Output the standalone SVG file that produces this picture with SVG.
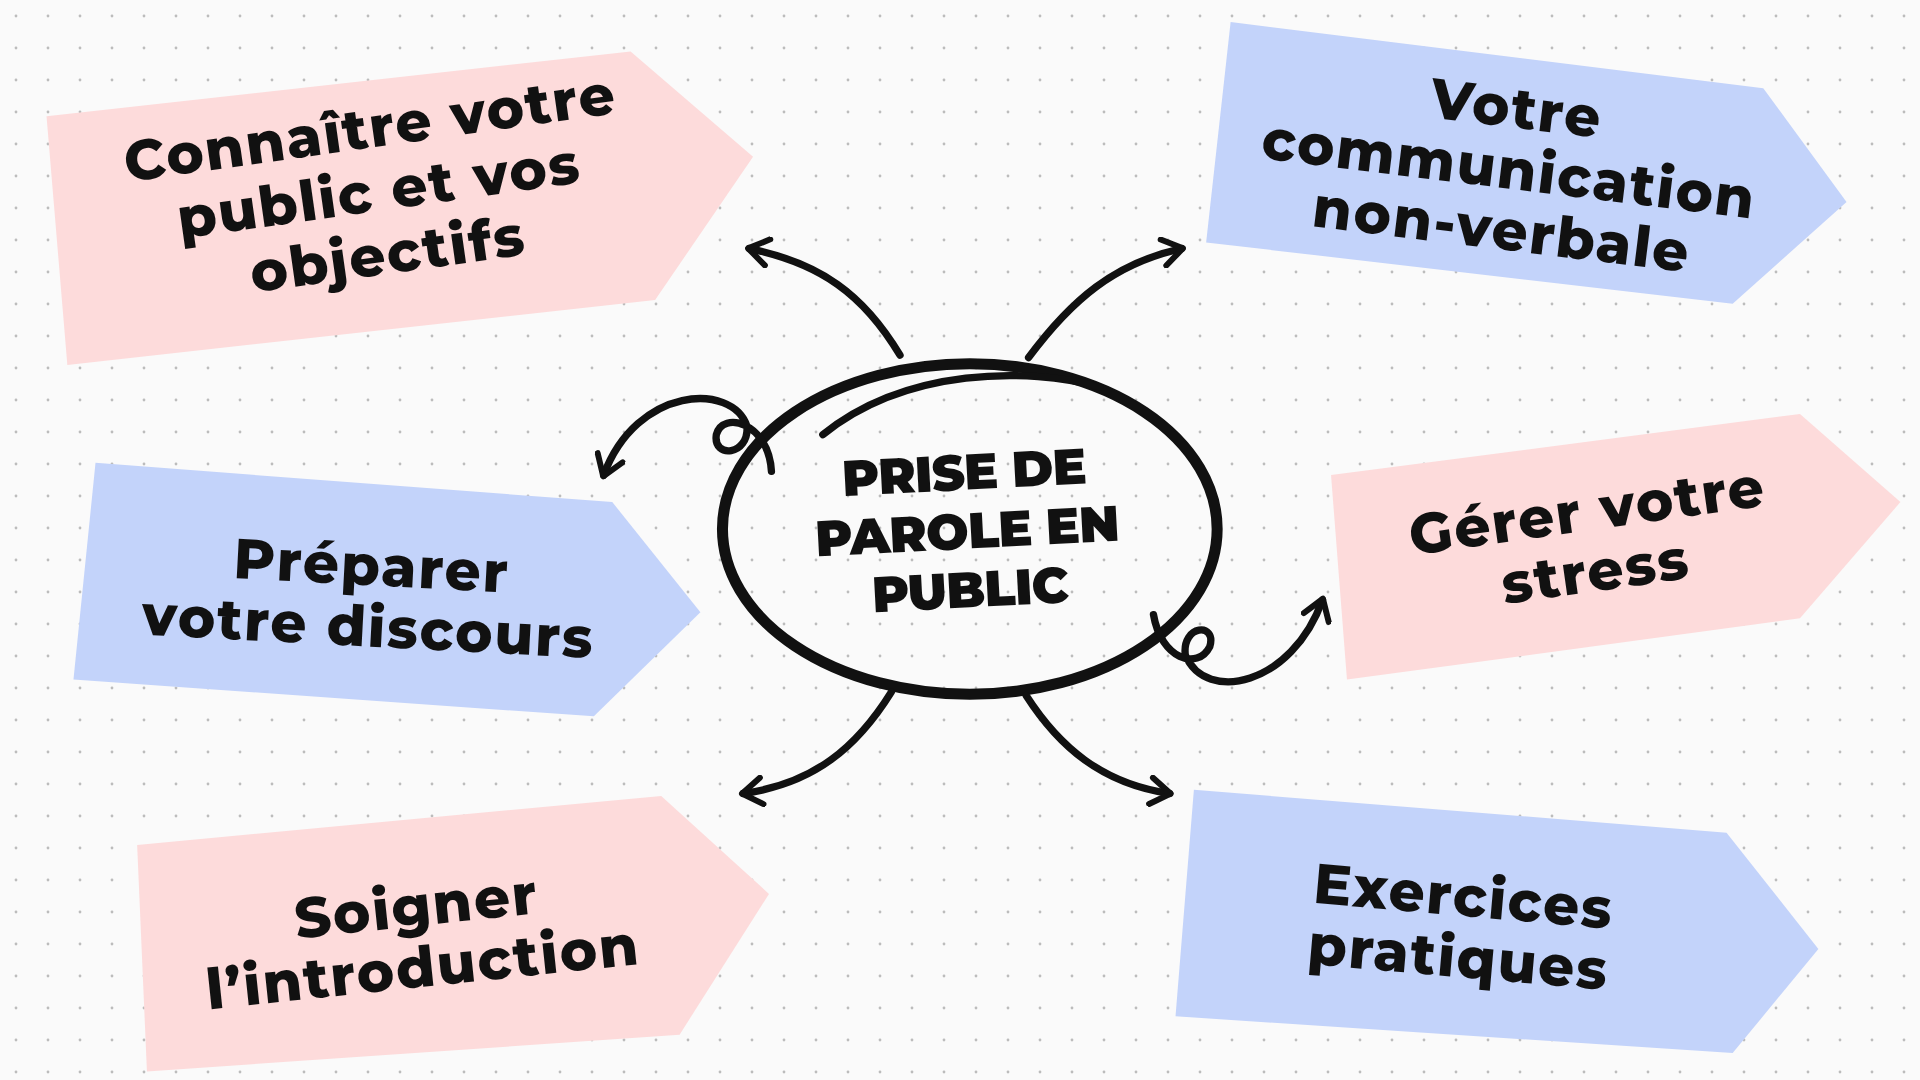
<svg xmlns="http://www.w3.org/2000/svg" width="1920" height="1080" viewBox="0 0 1920 1080">
<defs>
<pattern id="dots" width="32" height="32" patternUnits="userSpaceOnUse"><circle cx="16" cy="16" r="1.4" fill="#bcbcbc"/></pattern>
<marker id="ah" viewBox="0 0 24 24" refX="17" refY="12" markerWidth="26" markerHeight="26" markerUnits="userSpaceOnUse" orient="auto"><path d="M3,2 L18,12 L3,22" fill="none" stroke="#111" stroke-width="4.5" stroke-linecap="round" stroke-linejoin="round"/></marker>
<style>
.pink{fill:#fddbdb}.blue{fill:#c3d3fa}
.t{font-family:Montserrat,"Open Sans",Inter,sans-serif;font-weight:800;fill:#111;text-anchor:middle;font-size:46px;letter-spacing:1.5px}
.c{stroke:#111;stroke-width:6;fill:none;stroke-linecap:round}
</style>
</defs>
<rect width="1920" height="1080" fill="#fafafa"/>
<rect width="1920" height="1080" fill="url(#dots)"/>
<g transform="scale(1.2245)">
<g id="n1"><polygon class="pink" points="38,95 515,42 615,128 535,245 55,298"/>
<g transform="translate(310,160) rotate(-8)"><text class="t" y="-40">Connaître votre</text><text class="t" y="12">public et vos</text><text class="t" y="64">objectifs</text></g></g>
<g id="n2"><polygon class="blue" points="1005,18 1440,72 1508,165 1415,248 985,198"/>
<g transform="translate(1232,142) rotate(7)"><text class="t" y="-38">Votre</text><text class="t" y="12">communication</text><text class="t" y="62">non-verbale</text></g></g>
<g id="n3"><polygon class="blue" points="78,378 500,410 572,500 485,585 60,555"/>
<g transform="translate(302,490) rotate(3)"><text class="t" y="-12">Préparer</text><text class="t" y="38">votre discours</text></g></g>
<g id="n4"><polygon class="pink" points="1087,388 1470,338 1552,410 1470,505 1100,555"/>
<g transform="translate(1300,445) rotate(-8)"><text class="t" y="-12">Gérer votre</text><text class="t" y="38">stress</text></g></g>
<g id="n5"><polygon class="pink" points="112,690 540,650 628,730 555,845 120,875"/>
<g transform="translate(343,768) rotate(-6)"><text class="t" y="-12">Soigner</text><text class="t" y="38">l’introduction</text></g></g>
<g id="n6"><polygon class="blue" points="975,645 1410,680 1485,775 1415,860 960,830"/>
<g transform="translate(1193,760) rotate(5)"><text class="t" y="-12">Exercices</text><text class="t" y="38">pratiques</text></g></g>
<g id="center"><ellipse cx="792" cy="432" rx="202" ry="135" fill="none" stroke="#111" stroke-width="9"/>
<path d="M672,355 C740,300 840,300 898,316" class="c"/>
<g transform="translate(790,440) rotate(-3)"><text class="t" style="font-size:41px;letter-spacing:-0.5px;font-weight:900" y="-40">PRISE DE</text><text class="t" style="font-size:41px;letter-spacing:-0.5px;font-weight:900" y="8">PAROLE EN</text><text class="t" style="font-size:41px;letter-spacing:-0.5px;font-weight:900" y="56">PUBLIC</text></g></g>
<g id="connectors">
<path class="c" d="M735,290 C705,240 670,215 612,203" marker-end="url(#ah)"/>
<path class="c" d="M840,292 C875,245 910,215 965,203" marker-end="url(#ah)"/>
<path class="c" d="M630,385 C628,345 590,335 585,355 C582,375 612,372 610,348 C598,312 520,315 493,388" marker-end="url(#ah)"/>
<path class="c" d="M728,565 C700,610 665,640 607,648" marker-end="url(#ah)"/>
<path class="c" d="M838,568 C865,610 900,640 955,648" marker-end="url(#ah)"/>
<path class="c" d="M942,502 C948,538 978,548 988,528 C994,508 965,510 968,535 C985,575 1055,560 1080,490" marker-end="url(#ah)"/>
</g>
</g>
</svg>
